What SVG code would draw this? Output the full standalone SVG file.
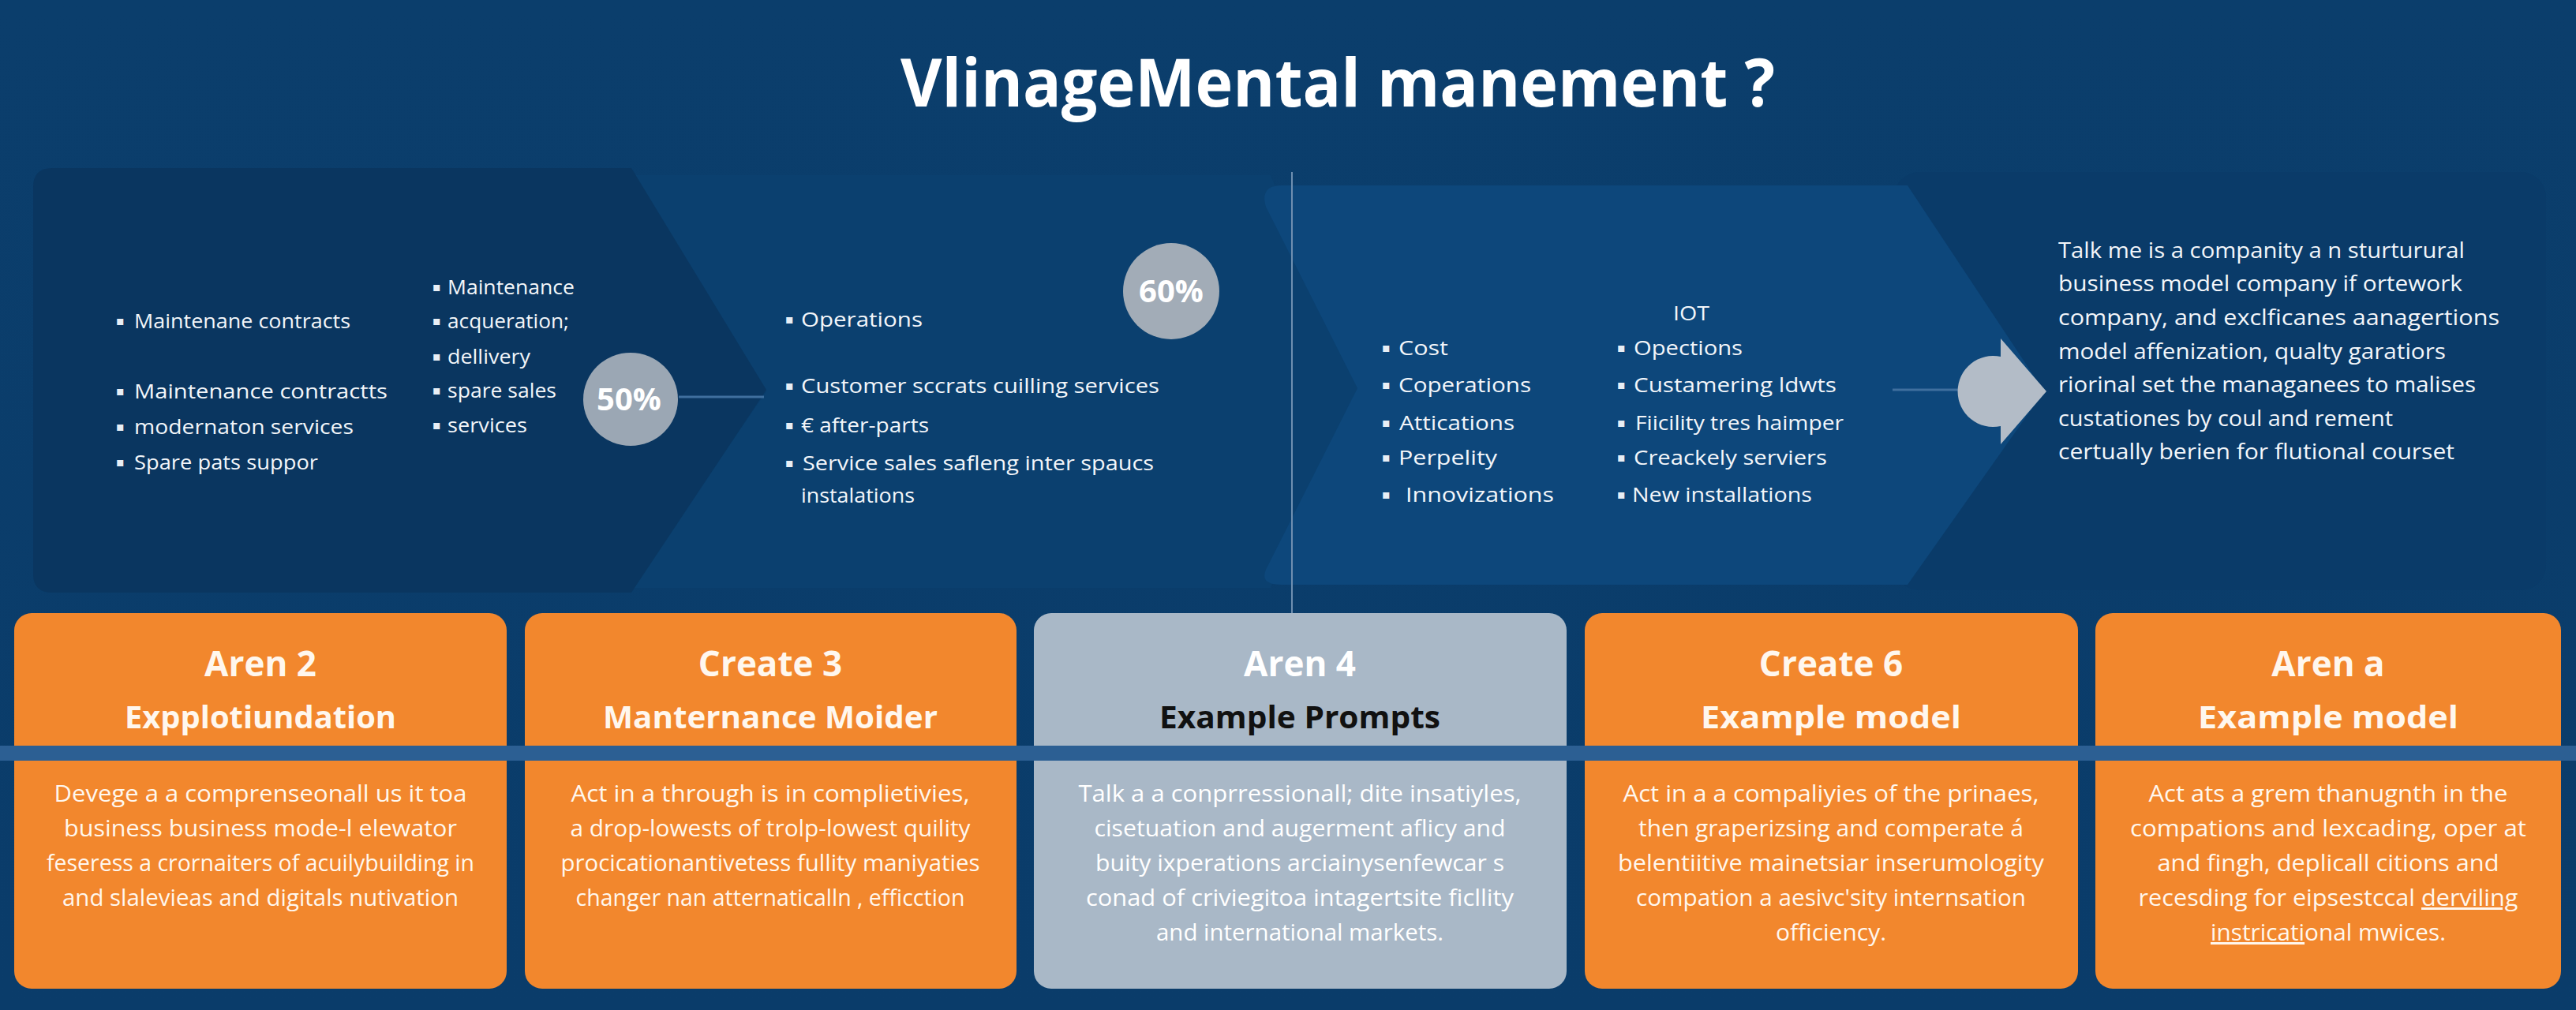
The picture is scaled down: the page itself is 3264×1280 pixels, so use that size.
<svg xmlns="http://www.w3.org/2000/svg" width="3264" height="1280" viewBox="0 0 3264 1280">
<defs>
<linearGradient id="bg" x1="0" y1="0" x2="0" y2="1">
<stop offset="0" stop-color="#0b3e6c"/>
<stop offset="1" stop-color="#0a3c6a"/>
</linearGradient>
<style>
.t{font-family:"Open Sans","Liberation Sans",sans-serif;fill:#f3f6fa}
.tp{font-size:26px}
.tr{font-size:27px}
.bu{font-family:"DejaVu Sans",sans-serif;font-size:16px;fill:#e8eef5}
.pc{font-family:"Open Sans","Liberation Sans",sans-serif;font-weight:700;font-size:40px;fill:#ffffff;text-anchor:middle}
.h1{font-family:"Open Sans","Liberation Sans",sans-serif;font-weight:700;font-size:44px;fill:#fff7ee;text-anchor:middle}
.h2{font-family:"Open Sans","Liberation Sans",sans-serif;font-weight:700;font-size:40px;fill:#fff7ee;text-anchor:middle}
.bd{font-family:"Open Sans","Liberation Sans",sans-serif;font-size:30px;fill:#fff7ee;text-anchor:middle}
.card{fill:#f2872d}
.gcard{fill:#a9b8c7}
.conn{stroke:#3f6f9e;stroke-width:3;fill:none}
</style>
</defs>
<rect x="0" y="0" width="3264" height="1280" fill="url(#bg)"/>
<text id="title" x="1141" y="135" textLength="1108" lengthAdjust="spacingAndGlyphs" style="font-family:'Open Sans','Liberation Sans',sans-serif;font-weight:700;font-size:84px;fill:#ffffff">VlinageMental manement ?</text>

<g id="panel-mid">
<path d="M971 496 L800 222 H1610 L1720 492 L1610 745 H800 Z" fill="#0b406f"/>
</g>
<g id="panel-right">
<rect x="2400" y="218" width="826" height="530" rx="32" fill="#0a3b69"/>
</g>
<g id="panel-4">
<path d="M1624 235 H2417 L2590 496 L2417 741 H1624 Q1596 741 1604 722 L1720 492 L1604 262 Q1596 235 1624 235 Z" fill="#0d477b"/>
</g>
<g id="panel-left">
<path d="M66 213 H800 L971 494 L800 751 H66 Q42 751 42 727 V237 Q42 213 66 213 Z" fill="#0a3660"/>
</g>

<g id="connectors">
<line class="conn" x1="860" y1="503" x2="968" y2="503"/>
<line class="conn" x1="2398" y1="494" x2="2507" y2="494" stroke="#6f8fb0"/>
<line x1="1637" y1="218" x2="1637" y2="783" stroke="#6f8fb0" stroke-width="2"/>
</g>

<g id="left-text">
<text class="bu" x="147" y="412">▪</text><text class="t tp" x="170" y="416" textLength="274" lengthAdjust="spacingAndGlyphs">Maintenane contracts</text>
<text class="bu" x="147" y="501">▪</text><text class="t tp" x="170" y="505" textLength="321" lengthAdjust="spacingAndGlyphs">Maintenance contractts</text>
<text class="bu" x="147" y="546">▪</text><text class="t tp" x="170" y="550" textLength="278" lengthAdjust="spacingAndGlyphs">modernaton services</text>
<text class="bu" x="147" y="591">▪</text><text class="t tp" x="170" y="595" textLength="233" lengthAdjust="spacingAndGlyphs">Spare pats suppor</text>
<text class="bu" x="548" y="369">▪</text><text class="t tp" x="567" y="373" textLength="161" lengthAdjust="spacingAndGlyphs">Maintenance</text>
<text class="bu" x="548" y="412">▪</text><text class="t tp" x="567" y="416" textLength="154" lengthAdjust="spacingAndGlyphs">acqueration;</text>
<text class="bu" x="548" y="457">▪</text><text class="t tp" x="567" y="461" textLength="105" lengthAdjust="spacingAndGlyphs">dellivery</text>
<text class="bu" x="548" y="500">▪</text><text class="t tp" x="567" y="504" textLength="138" lengthAdjust="spacingAndGlyphs">spare sales</text>
<text class="bu" x="548" y="544">▪</text><text class="t tp" x="567" y="548" textLength="101" lengthAdjust="spacingAndGlyphs">services</text>
</g>
<g id="badge-50">
<ellipse cx="799" cy="506" rx="60" ry="59" fill="#9ba7b4"/>
<text class="pc" x="797" y="520">50%</text>
</g>

<g id="mid-text">
<text class="bu" x="995" y="410">▪</text><text class="t tp" x="1015" y="414" textLength="154" lengthAdjust="spacingAndGlyphs">Operations</text>
<text class="bu" x="995" y="494">▪</text><text class="t tp" x="1015" y="498" textLength="454" lengthAdjust="spacingAndGlyphs">Customer sccrats cuilling services</text>
<text class="bu" x="995" y="544">▪</text><text class="t tp" x="1015" y="548" textLength="162" lengthAdjust="spacingAndGlyphs">€ after-parts</text>
<text class="bu" x="995" y="592">▪</text><text class="t tp" x="1017" y="596" textLength="445" lengthAdjust="spacingAndGlyphs">Service sales safleng inter spaucs</text>
<text class="t tp" x="1015" y="637" textLength="144" lengthAdjust="spacingAndGlyphs">instalations</text>
</g>
<g id="badge-60">
<ellipse cx="1484" cy="369" rx="61" ry="61" fill="#a2acb7"/>
<text class="pc" x="1484" y="383">60%</text>
</g>

<g id="panel4-text">
<text class="t tp" x="2120" y="406" textLength="46" lengthAdjust="spacingAndGlyphs">IOT</text>
<text class="bu" x="1751" y="446">▪</text><text class="t tp" x="1772" y="450" textLength="63" lengthAdjust="spacingAndGlyphs">Cost</text>
<text class="bu" x="1751" y="493">▪</text><text class="t tp" x="1772" y="497" textLength="168" lengthAdjust="spacingAndGlyphs">Coperations</text>
<text class="bu" x="1751" y="541">▪</text><text class="t tp" x="1773" y="545" textLength="146" lengthAdjust="spacingAndGlyphs">Attications</text>
<text class="bu" x="1751" y="585">▪</text><text class="t tp" x="1772" y="589" textLength="125" lengthAdjust="spacingAndGlyphs">Perpelity</text>
<text class="bu" x="1751" y="632">▪</text><text class="t tp" x="1781" y="636" textLength="188" lengthAdjust="spacingAndGlyphs">Innovizations</text>
<text class="bu" x="2049" y="446">▪</text><text class="t tp" x="2070" y="450" textLength="138" lengthAdjust="spacingAndGlyphs">Opections</text>
<text class="bu" x="2049" y="493">▪</text><text class="t tp" x="2070" y="497" textLength="257" lengthAdjust="spacingAndGlyphs">Custamering ldwts</text>
<text class="bu" x="2049" y="541">▪</text><text class="t tp" x="2072" y="545" textLength="264" lengthAdjust="spacingAndGlyphs">Fiicility tres haimper</text>
<text class="bu" x="2049" y="585">▪</text><text class="t tp" x="2070" y="589" textLength="245" lengthAdjust="spacingAndGlyphs">Creackely serviers</text>
<text class="bu" x="2049" y="632">▪</text><text class="t tp" x="2068" y="636" textLength="228" lengthAdjust="spacingAndGlyphs">New installations</text>
</g>

<g id="arrow-gray">
<path d="M2535 452 A45 45 0 1 0 2535 540 V563 L2593 496 L2535 429 Z" fill="#b3bcc7"/>
</g>

<g id="right-text">
<text class="t tr" x="2608" y="327" textLength="515" lengthAdjust="spacingAndGlyphs">Talk me is a companity a n sturturural</text>
<text class="t tr" x="2608" y="369" textLength="512" lengthAdjust="spacingAndGlyphs">business model company if ortework</text>
<text class="t tr" x="2608" y="412" textLength="559" lengthAdjust="spacingAndGlyphs">company, and exclficanes aanagertions</text>
<text class="t tr" x="2608" y="455" textLength="491" lengthAdjust="spacingAndGlyphs">model affenization,  qualty garatiors</text>
<text class="t tr" x="2608" y="497" textLength="529" lengthAdjust="spacingAndGlyphs">riorinal set the  managanees to malises</text>
<text class="t tr" x="2608" y="540" textLength="424" lengthAdjust="spacingAndGlyphs">custationes by coul and rement</text>
<text class="t tr" x="2608" y="582" textLength="502" lengthAdjust="spacingAndGlyphs">certually berien for flutional courset</text>
</g>

<g id="card-1">
<rect class="card" x="18" y="777" width="624" height="476" rx="22"/>
<text class="h1" x="330" y="857">Aren 2</text>
<text class="h2" x="330" y="923" textLength="344" lengthAdjust="spacingAndGlyphs">Expplotiundation</text>
<text class="bd" x="330" y="1016" textLength="523" lengthAdjust="spacingAndGlyphs">Devege a a comprenseonall us it toa</text>
<text class="bd" x="330" y="1060" textLength="498" lengthAdjust="spacingAndGlyphs">business business mode-l elewator</text>
<text class="bd" x="330" y="1104" textLength="542" lengthAdjust="spacingAndGlyphs">feseress a crornaiters of acuilybuilding in</text>
<text class="bd" x="330" y="1148" textLength="502" lengthAdjust="spacingAndGlyphs">and slalevieas and digitals nutivation</text>
</g>
<g id="card-2">
<rect class="card" x="665" y="777" width="623" height="476" rx="22"/>
<text class="h1" x="976" y="857">Create 3</text>
<text class="h2" x="976" y="923" textLength="424" lengthAdjust="spacingAndGlyphs">Manternance Moider</text>
<text class="bd" x="976" y="1016" textLength="505" lengthAdjust="spacingAndGlyphs">Act in a through is in complietivies,</text>
<text class="bd" x="976" y="1060" textLength="507" lengthAdjust="spacingAndGlyphs">a drop-lowests of trolp-lowest quility</text>
<text class="bd" x="976" y="1104" textLength="531" lengthAdjust="spacingAndGlyphs">procicationantivetess fullity maniyaties</text>
<text class="bd" x="976" y="1148" textLength="493" lengthAdjust="spacingAndGlyphs">changer nan atternaticalln , efficction</text>
</g>
<g id="card-3">
<rect class="gcard" x="1310" y="777" width="675" height="476" rx="22"/>
<text class="h1" x="1647" y="857" style="fill:#ffffff">Aren 4</text>
<text class="h2" x="1647" y="923" textLength="356" lengthAdjust="spacingAndGlyphs" style="fill:#111111">Example Prompts</text>
<text class="bd" x="1647" y="1016" textLength="561" lengthAdjust="spacingAndGlyphs" style="fill:#ffffff">Talk a a conprressionall; dite insatiyles,</text>
<text class="bd" x="1647" y="1060" textLength="521" lengthAdjust="spacingAndGlyphs" style="fill:#ffffff">cisetuation and augerment aflicy and</text>
<text class="bd" x="1647" y="1104" textLength="518" lengthAdjust="spacingAndGlyphs" style="fill:#ffffff">buity ixperations arciainysenfewcar s</text>
<text class="bd" x="1647" y="1148" textLength="542" lengthAdjust="spacingAndGlyphs" style="fill:#ffffff">conad of criviegitoa intagertsite ficllity</text>
<text class="bd" x="1647" y="1192" textLength="364" lengthAdjust="spacingAndGlyphs" style="fill:#ffffff">and international markets.</text>
</g>
<g id="card-4">
<rect class="card" x="2008" y="777" width="625" height="476" rx="22"/>
<text class="h1" x="2320" y="857">Create 6</text>
<text class="h2" x="2320" y="923" textLength="330" lengthAdjust="spacingAndGlyphs">Example model</text>
<text class="bd" x="2320" y="1016" textLength="527" lengthAdjust="spacingAndGlyphs">Act in a a compaliyies of the prinaes,</text>
<text class="bd" x="2320" y="1060" textLength="488" lengthAdjust="spacingAndGlyphs">then graperizsing and comperate á</text>
<text class="bd" x="2320" y="1104" textLength="540" lengthAdjust="spacingAndGlyphs">belentiitive mainetsiar inserumologity</text>
<text class="bd" x="2320" y="1148" textLength="494" lengthAdjust="spacingAndGlyphs">compation a aesivc'sity internsation</text>
<text class="bd" x="2320" y="1192" textLength="140" lengthAdjust="spacingAndGlyphs">officiency.</text>
</g>
<g id="card-5">
<rect class="card" x="2655" y="777" width="590" height="476" rx="22"/>
<text class="h1" x="2950" y="857">Aren a</text>
<text class="h2" x="2950" y="923" textLength="330" lengthAdjust="spacingAndGlyphs">Example model</text>
<text class="bd" x="2950" y="1016" textLength="455" lengthAdjust="spacingAndGlyphs">Act ats a grem thanugnth in the</text>
<text class="bd" x="2950" y="1060" textLength="502" lengthAdjust="spacingAndGlyphs">compations and lexcading, oper at</text>
<text class="bd" x="2950" y="1104" textLength="433" lengthAdjust="spacingAndGlyphs">and fingh, deplicall citions and</text>
<text class="bd" x="2950" y="1148" textLength="481" lengthAdjust="spacingAndGlyphs">recesding for eipsestccal <tspan text-decoration="underline">derviling</tspan></text>
<text class="bd" x="2950" y="1192" textLength="298" lengthAdjust="spacingAndGlyphs"><tspan text-decoration="underline">instricati</tspan>onal mwices.</text>
</g>

<rect id="band" x="0" y="945" width="3264" height="19" fill="#2c5f93"/>
</svg>
